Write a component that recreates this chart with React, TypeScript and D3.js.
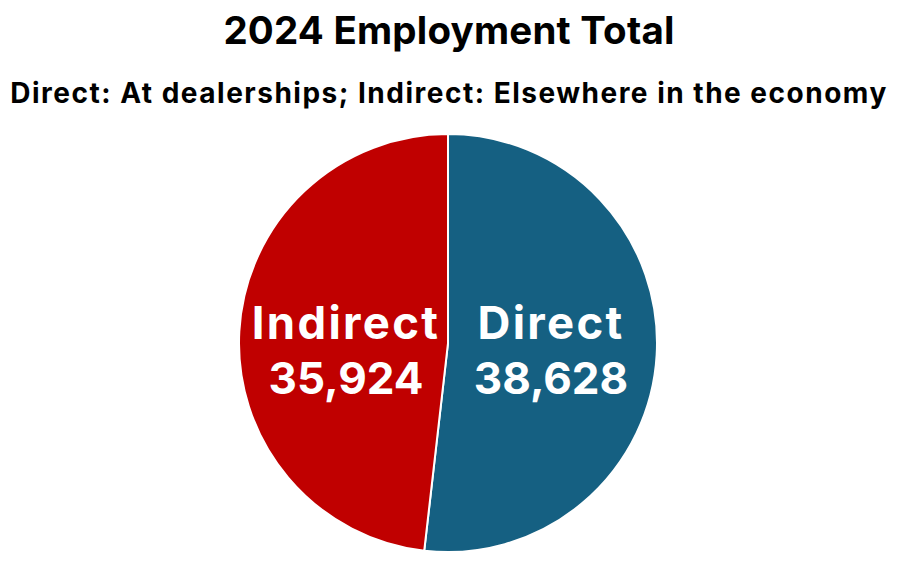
import React from "react";
import * as d3 from "d3";

const categories = ["Direct", "Indirect"];
const values = [38628, 35924];
const colors = ["#156082", "#c00000"];
const title = "2024 Employment Total";
const subtitle = "Direct: At dealerships; Indirect: Elsewhere in the economy";

export default function App() {
  const W = 900, H = 565;
  const cx = 448, cy = 343, r = 209;
  const data = categories.map((c, i) => ({ name: c, value: values[i], color: colors[i] }));
  const pie = d3.pie<any>().sort(null).value((d: any) => d.value);
  const arcs = pie(data);
  const arc = d3.arc<any>().innerRadius(0).outerRadius(r);
  const fmt = d3.format(",");
  const labelX: Record<string, number> = { Direct: 551, Indirect: 346 };
  const font = "Inter, 'Open Sans', sans-serif";
  return (
    <svg width={W} height={H} style={{ position: "absolute", left: 0, top: 0 }}>
      <rect width={W} height={H} fill="#fff" />
      <text x={449} y={44} textAnchor="middle" fontFamily={font} fontWeight={700} fontSize={38.5} letterSpacing={0.2} fill="#000">{title}</text>
      <text x={449} y={103} textAnchor="middle" fontFamily={font} fontWeight={700} fontSize={28} letterSpacing={1.5} fill="#000">{subtitle}</text>
      <g transform={`translate(${cx},${cy})`}>
        {arcs.map((a) => (
          <path key={a.data.name} d={arc(a) as string} fill={a.data.color} stroke="#fff" strokeWidth={2} />
        ))}
      </g>
      {arcs.map((a) => (
        <g key={a.data.name + "l"}>
          <text x={labelX[a.data.name]} y={339} textAnchor="middle" fontFamily={font} fontWeight={700} fontSize={45.5} letterSpacing={2.3} fill="#fff">{a.data.name}</text>
          <text x={labelX[a.data.name]} y={394} textAnchor="middle" fontFamily={font} fontWeight={700} fontSize={44} fill="#fff">{fmt(a.data.value)}</text>
        </g>
      ))}
    </svg>
  );
}
